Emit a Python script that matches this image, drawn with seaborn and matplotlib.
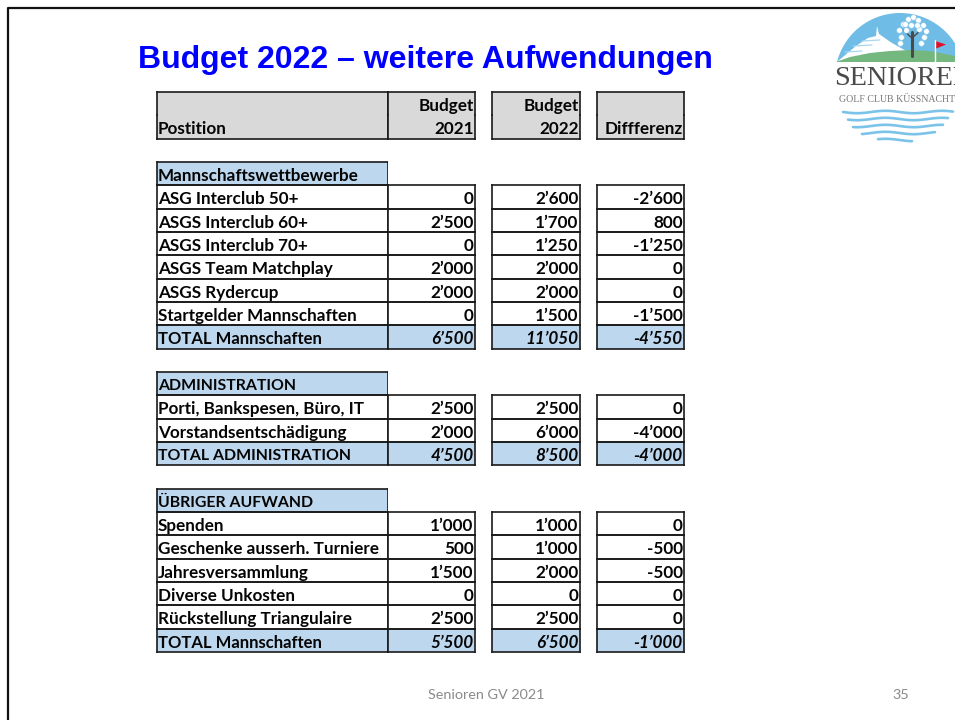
import matplotlib
matplotlib.use('Agg')
import matplotlib.pyplot as plt
from matplotlib.colors import ListedColormap
from matplotlib.patches import Circle, Polygon, Rectangle
import numpy as np
import pandas as pd
import seaborn as sns

# table content, one entry per row of the slide
positions = ['', 'Postition', '', 'Mannschaftswettbewerbe', 'ASG Interclub 50+', 'ASGS Interclub 60+',
             'ASGS Interclub 70+', 'ASGS Team Matchplay', 'ASGS Rydercup', 'Startgelder Mannschaften',
             'TOTAL Mannschaften', '', 'ADMINISTRATION', 'Porti, Bankspesen, Büro, IT',
             'Vorstandsentschädigung', 'TOTAL ADMINISTRATION', '', 'ÜBRIGER AUFWAND', 'Spenden',
             'Geschenke ausserh. Turniere', 'Jahresversammlung', 'Diverse Unkosten',
             'Rückstellung Triangulaire', 'TOTAL Mannschaften']
kinds = ['head', 'head', 'gap', 'section', 'row', 'row', 'row', 'row', 'row', 'row', 'total', 'gap', 'section',
         'row', 'row', 'total', 'gap', 'section', 'row', 'row', 'row', 'row', 'row', 'total']
budget_2021 = [None, None, None, None, 0, 2500, 0, 2000, 2000, 0, 6500, None, None, 2500, 2000, 4500, None, None,
               1000, 500, 1500, 0, 2500, 5500]
budget_2022 = [None, None, None, None, 2600, 1700, 1250, 2000, 2000, 1500, 11050, None, None, 2500, 6000, 8500,
               None, None, 1000, 1000, 2000, 0, 2500, 6500]
differenz = [None, None, None, None, -2600, 800, -1250, 0, 0, -1500, -4550, None, None, 0, -4000, -4000, None, None,
             0, -500, -500, 0, 0, -1000]
head_2021 = ['Budget', '2021']
head_2022 = ['Budget', '2022']
head_diff = ['', 'Diffferenz']
title = 'Budget 2022 – weitere Aufwendungen'
footer = 'Senioren GV 2021'
page = '35'

table = pd.DataFrame({'position': positions, 'kind': kinds, 'b21': budget_2021, 'b22': budget_2022,
                      'diff': differenz})

W, H = 955, 720
GREY = '#d9d9d9'
BLUE = '#bdd7ee'
INK = '#1a1a1a'
CODES = {'head': 1, 'section': 2, 'total': 2, 'row': 0}


def box(x0, y0, x1, y1):
    # axes placed in pixel coordinates of the slide
    return fig.add_axes([x0 / W, 1 - y1 / H, (x1 - x0) / W, (y1 - y0) / H])


def fmt(v):
    if v is None or pd.isna(v):
        return ''
    return f'{int(v):,}'.replace(',', '’')


def draw_column(x0, x1, col, head, section_filled=False):
    ax = box(x0, 92, x1, 652)
    codes = [np.nan if k == 'gap' or (k == 'section' and not section_filled) else CODES[k] for k in kinds]
    grid = pd.DataFrame({'c': codes})
    sns.heatmap(grid, ax=ax, cmap=ListedColormap(['white', GREY, BLUE]), vmin=0, vmax=2, cbar=False,
                xticklabels=False, yticklabels=False)
    ax.set_xlabel('')
    ax.set_ylabel('')
    # borders, the two header rows are one merged cell
    for i, c in enumerate(codes):
        if np.isnan(c):
            continue
        ax.plot([0, 0], [i, i + 1], color=INK, lw=1.2, solid_capstyle='projecting', clip_on=False)
        ax.plot([1, 1], [i, i + 1], color=INK, lw=1.2, solid_capstyle='projecting', clip_on=False)
        if kinds[i] != 'head' or i == 0:
            ax.plot([0, 1], [i, i], color=INK, lw=1.2, solid_capstyle='projecting', clip_on=False)
        if kinds[i] != 'head' or i == 1:
            ax.plot([0, 1], [i + 1, i + 1], color=INK, lw=1.2, solid_capstyle='projecting', clip_on=False)
    # text, Lato capitals run wider than the original font
    for i, row in table.iterrows():
        if col == 'position':
            ha, x, s = 'left', 0.006, row['position']
        else:
            ha, x, s = 'right', 0.985, fmt(row[col])
        if kinds[i] == 'head' and col != 'position':
            s = head[i]
        if s:
            size = 11.4 if s.isupper() else 12.3
            if s == 'TOTAL Mannschaften':
                size = 12.0
            ax.text(x, i + 0.6, s, ha=ha, va='center', fontsize=size, fontweight='bold', color='#050505',
                    family='Lato', style='italic' if (kinds[i] == 'total' and col != 'position') else 'normal')


sns.set_theme(style='white')
fig = plt.figure(figsize=(W / 100, H / 100), dpi=100, facecolor='white')

# slide frame and texts
bg = fig.add_axes([0, 0, 1, 1])
bg.set_xlim(0, W)
bg.set_ylim(H, 0)
bg.axis('off')
bg.plot([8, 8, W], [H, 7.5, 7.5], color='#111111', lw=1.6)
bg.text(138, 60, title, fontsize=23, fontweight='bold', color='#0000ff', family='Liberation Sans', va='center')
bg.text(486.5, 695, footer, fontsize=10.4, color='#8a8a8a', family='Lato', ha='center', va='center')
bg.text(901, 695, page, fontsize=10.4, color='#8a8a8a', family='Lato', ha='center', va='center')

# logo
sky = Circle((900, 78), 65, color='none')
bg.add_patch(sky)
top = Rectangle((830, 10), 130, 52, facecolor='#6fbce6', edgecolor='none')
bg.add_patch(top)
top.set_clip_path(sky)
snow = Polygon([(838, 61), (856, 46), (868, 38), (876, 36), (877, 26), (879, 34), (892, 43), (908, 52), (890, 56)],
               facecolor='white', edgecolor='none')
bg.add_patch(snow)
for y0, x0, x1 in [(41, 862, 880), (46, 853, 872), (52, 845, 862)]:
    bg.plot([x0, x1], [y0, y0 - 1], color='#a8d7f0', lw=0.9)
hill = Polygon([(836, 62), (850, 57), (870, 53), (890, 51), (910, 50), (930, 51), (955, 56), (955, 62)],
               facecolor='#74b77f', edgecolor='none')
bg.add_patch(hill)
bg.plot([912, 912], [32, 56], color='#4a4a4a', lw=2.2)
bg.plot([912, 903], [38, 30], color='#4a4a4a', lw=1)
bg.plot([912, 921], [38, 30], color='#4a4a4a', lw=1)
leaf_x = [899, 903, 908, 913, 918, 923, 926, 901, 906, 919, 924, 905, 911, 917, 900, 921]
leaf_y = [30, 24, 19, 17, 20, 25, 31, 37, 30, 29, 37, 24, 25, 25, 43, 43]
bg.scatter(leaf_x, leaf_y, s=16, color='white', edgecolor='#8ccbee', linewidth=0.4, zorder=3)
bg.plot([935, 935], [40, 62], color='white', lw=1)
bg.add_patch(Polygon([(935, 41), (946, 44.5), (935, 49)], facecolor='#e0102a', edgecolor='none'))
bg.text(834.5, 78.5, 'SENIOREN', fontsize=20.3, family='Liberation Serif', color='#4a4a4a', va='center', clip_on=True)
bg.text(838.5, 100, 'GOLF CLUB KÜSSNACHT', fontsize=7.15, family='Liberation Serif', color='#777777', va='center',
        clip_on=True)
for y, x0, x1 in [(112, 843, 953), (119, 848, 948), (126, 853, 943), (133, 862, 935), (140, 878, 912)]:
    x = np.linspace(x0, x1, 60)
    bg.plot(x, y + 1.2 * np.sin((x - 843) / 9), color='#7cc3ea', lw=1.9)

# the four table columns
draw_column(156.5, 387.5, 'position', head_2021, section_filled=True)
draw_column(387.5, 475, 'b21', head_2021)
draw_column(491.5, 580, 'b22', head_2022)
draw_column(596.5, 684, 'diff', head_diff)

fig.savefig('out.png', dpi=100)
